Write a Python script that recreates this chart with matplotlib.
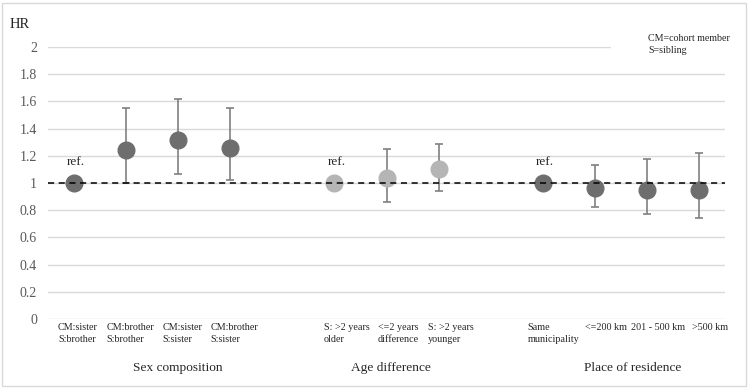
import matplotlib
matplotlib.use("Agg")
import matplotlib.pyplot as plt
import matplotlib.transforms as mtransforms
from matplotlib.patches import Rectangle

plt.rcParams["font.family"] = ["Liberation Serif", "DejaVu Serif"]

# groups of the chart
groups = ["Sex composition", "Age difference", "Place of residence"]
sex_labels = ["CM:sister\nS:brother", "CM:brother\nS:brother", "CM:sister\nS:sister", "CM:brother\nS:sister"]
sex_hr = [1.0, 1.245, 1.318, 1.26]
sex_lo = [1.0, 1.0, 1.067, 1.02]
sex_hi = [1.0, 1.555, 1.62, 1.555]

age_labels = ["S: >2 years\nolder", "<=2 years\ndifference", "S: >2 years\nyounger"]
age_hr = [1.0, 1.04, 1.10]
age_lo = [1.0, 0.86, 0.94]
age_hi = [1.0, 1.25, 1.29]

res_labels = ["Same\nmunicipality", "<=200 km", "201 - 500 km", ">500 km"]
res_hr = [1.0, 0.966, 0.95, 0.95]
res_lo = [1.0, 0.826, 0.77, 0.74]
res_hi = [1.0, 1.13, 1.18, 1.22]

yticks = [0, 0.2, 0.4, 0.6, 0.8, 1, 1.2, 1.4, 1.6, 1.8, 2]

dark = "#6e6e6e"
light = "#b5b5b5"
err_col = "#808080"
txt = "#262626"

fig = plt.figure(figsize=(7.5, 3.88), dpi=100)
ax = fig.add_axes([0.064, 0.1778, 0.9027, 0.7011])

series = [
    (sex_labels, sex_hr, sex_lo, sex_hi, dark),
    (age_labels, age_hr, age_lo, age_hi, light),
    (res_labels, res_hr, res_lo, res_hi, dark),
]
label_shift = [4, 12, 11]  # px, the labels sit a little right of the points

xticks, xlabels, shifts = [], [], []
start = 0
for (labels, hr, lo, hi, col), sh in zip(series, label_shift):
    xs = list(range(start, start + len(labels)))
    yerr = [[h - l for h, l in zip(hr, lo)], [u - h for h, u in zip(hr, hi)]]
    ax.errorbar(xs[1:], hr[1:], yerr=[yerr[0][1:], yerr[1][1:]], fmt="none",
                ecolor=err_col, elinewidth=1.2, capsize=3, capthick=1.2, zorder=3)
    ax.plot(xs, hr, "o", color=col, markersize=12, zorder=4, linestyle="none")
    ax.text(xs[0] + 0.04, hr[0] + 0.155, "ref.", ha="center", va="center", fontsize=9.5, color=txt)
    xticks += xs
    xlabels += labels
    shifts += [sh] * len(labels)
    start += len(labels) + 1

ax.axhline(1, color="black", linestyle=(0, (4, 3)), linewidth=1.1, zorder=5)

ax.set_xlim(-0.5, start - 1.5)
ax.set_ylim(0, 2)
ax.set_yticks(yticks)
ax.set_yticklabels([f"{t:g}" for t in yticks])
ax.grid(axis="y", color="#d9d9d9", linewidth=1)
ax.set_axisbelow(True)
for s in ax.spines.values():
    s.set_visible(False)
ax.tick_params(axis="y", length=0, pad=8, labelsize=10, labelcolor="#595959")
ax.set_xticks(xticks)
ax.set_xticklabels(xlabels, fontsize=7.3, color=txt, multialignment="left", linespacing=1.45)
ax.tick_params(axis="x", length=0, pad=3)
for lab, sh in zip(ax.get_xticklabels(), shifts):
    lab.set_transform(lab.get_transform() + mtransforms.ScaledTranslation(sh / 100, 0, fig.dpi_scale_trans))

trans = mtransforms.blended_transform_factory(ax.transData, ax.transAxes)
group_pos = [2.0, 6.08, 10.73]
for g, gx in zip(groups, group_pos):
    ax.text(gx, -0.18, g, transform=trans, ha="center", va="center", fontsize=9.6, color=txt)

fig.text(10 / 750, 1 - 25 / 388, "HR", ha="left", va="center", fontsize=10.5, color=txt)

fig.patches.append(Rectangle((611 / 750, 1 - 58 / 388), 130 / 750, 28 / 388,
                             transform=fig.transFigure, facecolor="white", edgecolor="none", zorder=2))
fig.text(648 / 750, 1 - 44.5 / 388, "CM=cohort member\nS=sibling", ha="left", va="center",
         fontsize=7.2, color=txt, linespacing=1.55, zorder=3)

fig.patches.append(Rectangle((2 / 750, 2 / 388), 744 / 750, 383 / 388, transform=fig.transFigure,
                             facecolor="none", edgecolor="#d9d9d9", linewidth=1, zorder=1))

fig.savefig("out.png", dpi=100)
